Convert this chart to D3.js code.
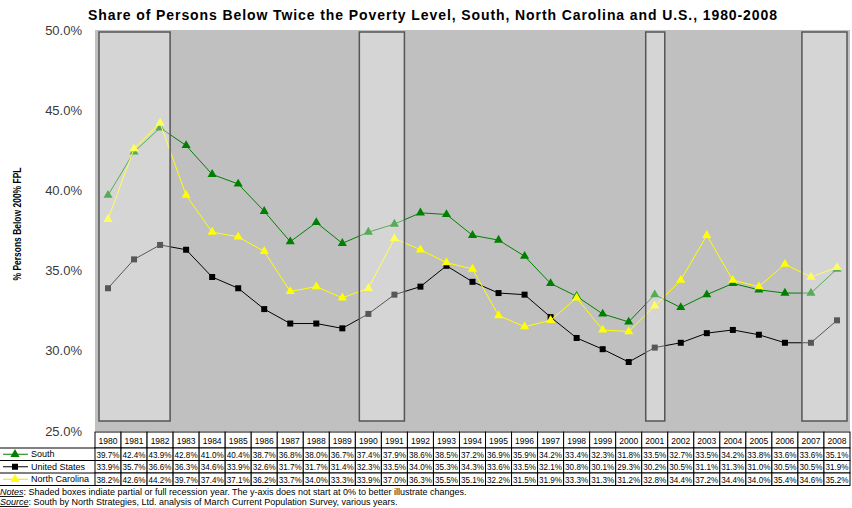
<!DOCTYPE html>
<html>
<head>
<meta charset="utf-8">
<script src="https://cdn.jsdelivr.net/npm/d3@7"></script>
<style>
  body { margin: 0; background: #fff; }
  svg { display: block; font-family: "Liberation Sans", Arial, sans-serif; }
</style>
</head>
<body>
<svg id="chart" width="852" height="508"></svg>
<script>
// data
var years = [1980, 1981, 1982, 1983, 1984, 1985, 1986, 1987, 1988, 1989, 1990, 1991, 1992, 1993, 1994,
  1995, 1996, 1997, 1998, 1999, 2000, 2001, 2002, 2003, 2004, 2005, 2006, 2007, 2008];
var south = [39.7, 42.4, 43.9, 42.8, 41.0, 40.4, 38.7, 36.8, 38.0, 36.7, 37.4, 37.9, 38.6, 38.5, 37.2,
  36.9, 35.9, 34.2, 33.4, 32.3, 31.8, 33.5, 32.7, 33.5, 34.2, 33.8, 33.6, 33.6, 35.1];
var unitedStates = [33.9, 35.7, 36.6, 36.3, 34.6, 33.9, 32.6, 31.7, 31.7, 31.4, 32.3, 33.5, 34.0, 35.3, 34.3,
  33.6, 33.5, 32.1, 30.8, 30.1, 29.3, 30.2, 30.5, 31.1, 31.3, 31.0, 30.5, 30.5, 31.9];
var northCarolina = [38.2, 42.6, 44.2, 39.7, 37.4, 37.1, 36.2, 33.7, 34.0, 33.3, 33.9, 37.0, 36.3, 35.5, 35.1,
  32.2, 31.5, 31.9, 33.3, 31.3, 31.2, 32.8, 34.4, 37.2, 34.4, 34.0, 35.4, 34.6, 35.2];
var recessions = [[1980, 1982], [1990, 1991], [2001, 2001], [2007, 2008]];
var yTicks = [25, 30, 35, 40, 45, 50];

var series = [
  { name: "South", values: south, color: "#008000", marker: "triangle" },
  { name: "United States", values: unitedStates, color: "#000000", marker: "square" },
  { name: "North Carolina", values: northCarolina, color: "#ffff00", marker: "triangle" }
];

var svg = d3.select("#chart");
var plotLeft = 95, plotRight = 850, plotTop = 30, plotBottom = 431;

var x = d3.scaleBand().domain(years).range([plotLeft, plotRight]).padding(0);
var y = d3.scaleLinear().domain([25, 50]).range([plotBottom, plotTop]);
var fmt = d3.format(".1f");

// title
svg.append("text")
  .attr("x", 88).attr("y", 20)
  .attr("font-size", 14).attr("font-weight", "bold")
  .attr("textLength", 689).attr("lengthAdjust", "spacing")
  .text("Share of Persons Below Twice the Poverty Level, South, North Carolina and U.S., 1980-2008");

// plot area
svg.append("rect")
  .attr("x", plotLeft).attr("y", plotTop)
  .attr("width", plotRight - plotLeft).attr("height", plotBottom - plotTop)
  .attr("fill", "#c0c0c0");

// y axis
var yAxis = svg.append("g")
  .attr("transform", "translate(" + (plotLeft - 10) + ",0)")
  .call(d3.axisLeft(y).tickValues(yTicks).tickSize(0).tickFormat(function (d) { return fmt(d) + "%"; }));
yAxis.select(".domain").remove();
yAxis.selectAll("text")
  .attr("font-family", "Liberation Sans, Arial, sans-serif")
  .attr("font-size", 13).attr("fill", "#3a3a3a");

svg.append("text")
  .attr("transform", "translate(21,224) rotate(-90)")
  .attr("text-anchor", "middle")
  .attr("font-size", 10).attr("font-weight", "bold")
  .attr("textLength", 113).attr("lengthAdjust", "spacingAndGlyphs")
  .text("% Persons Below 200% FPL");

// lines + markers
var line = d3.line()
  .x(function (d, i) { return x(years[i]) + x.bandwidth() / 2; })
  .y(function (d) { return y(d); });

var triangle = d3.symbol().type(d3.symbolTriangle).size(36);
var square = d3.symbol().type(d3.symbolSquare).size(36);

series.forEach(function (s) {
  var g = svg.append("g").attr("class", "series");
  g.append("path")
    .attr("d", line(s.values))
    .attr("fill", "none")
    .attr("stroke", s.color)
    .attr("stroke-width", 1);
  g.selectAll("path.mark")
    .data(s.values)
    .enter().append("path")
    .attr("class", "mark")
    .attr("transform", function (d, i) {
      return "translate(" + (x(years[i]) + x.bandwidth() / 2) + "," + y(d) + ")";
    })
    .attr("d", s.marker === "square" ? square : triangle)
    .attr("fill", s.color);
});

// recession boxes, drawn on top and see-through like the original shapes
svg.selectAll("rect.recession")
  .data(recessions)
  .enter().append("rect")
  .attr("class", "recession")
  .attr("x", function (d) { return x(d[0]) + 4; })
  .attr("y", 32)
  .attr("width", function (d) { return x(d[1]) + x.bandwidth() - x(d[0]) - 7; })
  .attr("height", 389)
  .attr("fill", "#ffffff").attr("fill-opacity", 0.34)
  .attr("stroke", "#555").attr("stroke-width", 1.5);

// data table
var rowTop = 432, yearH = 16, rowH = 12.5;
var table = svg.append("g").attr("class", "table");

table.selectAll("rect.year")
  .data(years)
  .enter().append("rect")
  .attr("x", function (d) { return x(d); })
  .attr("y", rowTop)
  .attr("width", x.bandwidth()).attr("height", yearH)
  .attr("fill", "#fff").attr("stroke", "#000").attr("stroke-width", 1);

table.selectAll("text.year")
  .data(years)
  .enter().append("text")
  .attr("x", function (d) { return x(d) + x.bandwidth() / 2; })
  .attr("y", rowTop + 11.5)
  .attr("text-anchor", "middle")
  .attr("font-size", 8.5)
  .text(function (d) { return d; });

series.forEach(function (s, r) {
  var ry = rowTop + yearH + r * rowH;
  var row = table.append("g");
  row.append("line")
    .attr("x1", 0).attr("x2", plotLeft)
    .attr("y1", ry).attr("y2", ry)
    .attr("stroke", "#000");
  row.selectAll("rect")
    .data(s.values)
    .enter().append("rect")
    .attr("x", function (d, i) { return x(years[i]); })
    .attr("y", ry)
    .attr("width", x.bandwidth()).attr("height", rowH)
    .attr("fill", "#fff").attr("stroke", "#000").attr("stroke-width", 1);
  row.selectAll("text")
    .data(s.values)
    .enter().append("text")
    .attr("x", function (d, i) { return x(years[i]) + 1.5; })
    .attr("y", ry + 9.5)
    .attr("font-size", 8.5)
    .attr("textLength", 23).attr("lengthAdjust", "spacingAndGlyphs")
    .text(function (d) { return fmt(d) + "%"; });

  // legend key
  var cy = ry + rowH / 2;
  row.append("line")
    .attr("x1", 3).attr("x2", 28).attr("y1", cy).attr("y2", cy)
    .attr("stroke", s.color === "#ffff00" ? "#e6e600" : s.color).attr("stroke-width", 1);
  row.append("path")
    .attr("transform", "translate(15," + cy + ")")
    .attr("d", s.marker === "square" ? square : triangle)
    .attr("fill", s.color);
  row.append("text")
    .attr("x", 31).attr("y", cy + 3.2)
    .attr("font-size", 9)
    .text(s.name);
});
table.append("line")
  .attr("x1", 0).attr("x2", plotLeft)
  .attr("y1", rowTop + yearH + 3 * rowH).attr("y2", rowTop + yearH + 3 * rowH)
  .attr("stroke", "#000");

// notes
var notes = svg.append("text").attr("x", 0).attr("y", 495).attr("font-size", 9);
notes.append("tspan").attr("font-style", "italic").attr("text-decoration", "underline").text("Notes");
notes.append("tspan").text(":  Shaded boxes indiate partial or full recession year. The y-axis does not start at 0% to better illustrate changes.");

var source = svg.append("text").attr("x", 0).attr("y", 505).attr("font-size", 9);
source.append("tspan").attr("font-style", "italic").attr("text-decoration", "underline").text("Source");
source.append("tspan").text(":  South by North Strategies, Ltd. analysis of March Current Population Survey, various years.");
</script>
</body>
</html>
